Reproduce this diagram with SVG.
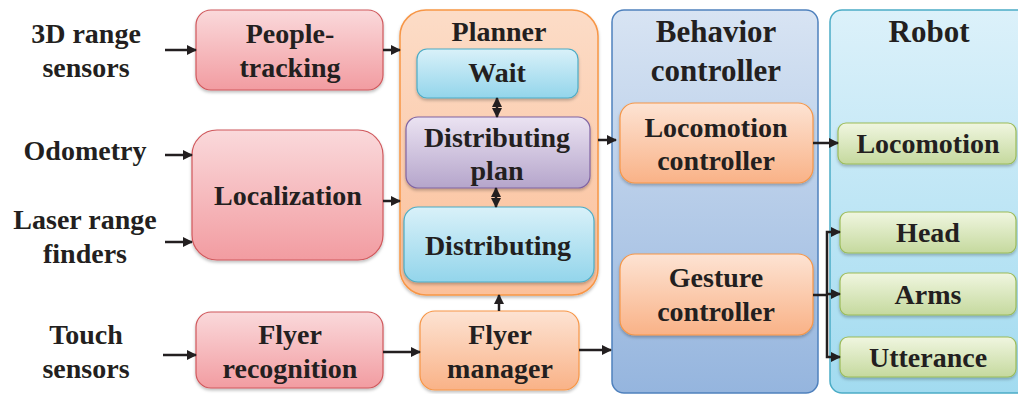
<svg xmlns="http://www.w3.org/2000/svg" width="1018" height="394" viewBox="0 0 1018 394">
<defs>
<linearGradient id="gRed" x1="0" y1="0" x2="0" y2="1"><stop offset="0" stop-color="#fad9db"/><stop offset="1" stop-color="#f29ca1"/></linearGradient>
<linearGradient id="gOr" x1="0" y1="0" x2="0" y2="1"><stop offset="0" stop-color="#fde3d3"/><stop offset="1" stop-color="#f9b287"/></linearGradient>
<linearGradient id="gPlan" x1="0" y1="0" x2="0" y2="1"><stop offset="0" stop-color="#fcdcc7"/><stop offset="1" stop-color="#fbc09a"/></linearGradient>
<linearGradient id="gCy" x1="0" y1="0" x2="0" y2="1"><stop offset="0" stop-color="#d9f1f9"/><stop offset="1" stop-color="#93d5eb"/></linearGradient>
<linearGradient id="gPu" x1="0" y1="0" x2="0" y2="1"><stop offset="0" stop-color="#ebe3f2"/><stop offset="1" stop-color="#b5a5cb"/></linearGradient>
<linearGradient id="gBl" x1="0" y1="0" x2="0" y2="1"><stop offset="0" stop-color="#d8e4f3"/><stop offset="1" stop-color="#95b5de"/></linearGradient>
<linearGradient id="gRb" x1="0" y1="0" x2="0" y2="1"><stop offset="0" stop-color="#dcf1fa"/><stop offset="1" stop-color="#a2dbf0"/></linearGradient>
<linearGradient id="gGr" x1="0" y1="0" x2="0" y2="1"><stop offset="0" stop-color="#f0f6e0"/><stop offset="1" stop-color="#c5d99e"/></linearGradient>
<filter id="sh" x="-10%" y="-10%" width="120%" height="130%"><feDropShadow dx="0" dy="2" stdDeviation="1.5" flood-color="#000" flood-opacity="0.25"/></filter>
<marker id="ah" viewBox="0 0 10 10" refX="9" refY="5" markerWidth="4" markerHeight="4" orient="auto-start-reverse"><path d="M0,0 L10,5 L0,10 z" fill="#231f20"/></marker>
</defs>
<style>
text{font-family:"Liberation Serif","Times New Roman",serif;font-weight:bold;font-size:28px;fill:#231f20;text-anchor:middle}
.t31{font-size:31px}
.red{fill:url(#gRed);stroke:#d0585c;stroke-width:1.2;filter:url(#sh)}
.or{fill:url(#gOr);stroke:#f79646;stroke-width:1.2;filter:url(#sh)}
.cy{fill:url(#gCy);stroke:#4bacc6;stroke-width:1.2;filter:url(#sh)}
.pu{fill:url(#gPu);stroke:#8064a2;stroke-width:1.2;filter:url(#sh)}
.gr{fill:url(#gGr);stroke:#9bbb59;stroke-width:1.2;filter:url(#sh)}
.c{fill:none;stroke:#231f20;stroke-width:2.5}
</style>
<g id="inputs">
<text x="86" y="43">3D range</text><text x="86" y="77">sensors</text>
<text x="85" y="160">Odometry</text>
<text x="85" y="229">Laser range</text><text x="85" y="263">finders</text>
<text x="86" y="344">Touch</text><text x="86" y="378">sensors</text>
</g>
<g id="behavior">
<rect x="612" y="10" width="206" height="383" rx="12" fill="url(#gBl)" stroke="#4f81bd" stroke-width="1.5"/>
<text class="t31" x="716" y="42">Behavior</text><text class="t31" x="716" y="81">controller</text>
</g>
<g id="robot">
<rect x="830" y="10" width="200" height="383" rx="12" fill="url(#gRb)" stroke="#4bacc6" stroke-width="1.5"/>
<text class="t31" x="929" y="42">Robot</text>
</g>
<g id="planner">
<rect x="400" y="10" width="198" height="285" rx="26" fill="url(#gPlan)" stroke="#f79646" stroke-width="1.5" filter="url(#sh)"/>
<text x="499" y="41">Planner</text>
</g>
<g id="people-tracking"><rect class="red" x="196" y="10" width="187" height="80" rx="15"/><text x="290" y="43">People-</text><text x="290" y="77">tracking</text></g>
<g id="localization"><rect class="red" x="192" y="130" width="191" height="130" rx="25"/><text x="288" y="205">Localization</text></g>
<g id="flyer-recognition"><rect class="red" x="196" y="312" width="187" height="76" rx="15"/><text x="290" y="344">Flyer</text><text x="290" y="378">recognition</text></g>
<g id="wait"><rect class="cy" x="417" y="49" width="161" height="49" rx="10"/><text x="497" y="82">Wait</text></g>
<g id="distributing-plan"><rect class="pu" x="406" y="117" width="184" height="71" rx="12"/><text x="497" y="147">Distributing</text><text x="497" y="180">plan</text></g>
<g id="distributing"><rect class="cy" x="404" y="207" width="190" height="75" rx="14"/><text x="498" y="255">Distributing</text></g>
<g id="flyer-manager"><rect class="or" x="420" y="311" width="159" height="79" rx="15"/><text x="500" y="344">Flyer</text><text x="500" y="378">manager</text></g>
<g id="locomotion-controller"><rect class="or" x="620" y="103" width="193" height="80" rx="15"/><text x="716" y="137">Locomotion</text><text x="716" y="170">controller</text></g>
<g id="gesture-controller"><rect class="or" x="620" y="254" width="193" height="81" rx="15"/><text x="716" y="287">Gesture</text><text x="716" y="321">controller</text></g>
<g id="locomotion"><rect class="gr" x="838" y="123" width="178" height="41" rx="8"/><text x="928" y="153">Locomotion</text></g>
<g id="head"><rect class="gr" x="840" y="212" width="176" height="41" rx="8"/><text x="928" y="242">Head</text></g>
<g id="arms"><rect class="gr" x="840" y="273" width="176" height="42" rx="8"/><text x="928" y="304">Arms</text></g>
<g id="utterance"><rect class="gr" x="840" y="337" width="176" height="40" rx="8"/><text x="928" y="367">Utterance</text></g>
<g id="connectors">
<path class="c" d="M165,50 H196" marker-end="url(#ah)"/>
<path class="c" d="M383,50 H400" marker-end="url(#ah)"/>
<path class="c" d="M165,155 H192" marker-end="url(#ah)"/>
<path class="c" d="M165,242 H192" marker-end="url(#ah)"/>
<path class="c" d="M383,201 H400" marker-end="url(#ah)"/>
<path class="c" d="M163,355 H196" marker-end="url(#ah)"/>
<path class="c" d="M383,352 H420" marker-end="url(#ah)"/>
<path class="c" d="M499,311 V295" marker-end="url(#ah)"/>
<path class="c" d="M579,350 H611" marker-end="url(#ah)"/>
<path class="c" d="M598,140 H616" marker-end="url(#ah)"/>
<path class="c" d="M813,143 H838" marker-end="url(#ah)"/>
<path class="c" d="M497,98 V117" marker-start="url(#ah)" marker-end="url(#ah)"/>
<path class="c" d="M496,188 V207" marker-start="url(#ah)" marker-end="url(#ah)"/>
<path class="c" d="M813,295 H827"/>
<path class="c" d="M840,232 H827 V357 H840" marker-start="url(#ah)" marker-end="url(#ah)"/>
<path class="c" d="M827,294 H840" marker-end="url(#ah)"/>
</g>
</svg>
